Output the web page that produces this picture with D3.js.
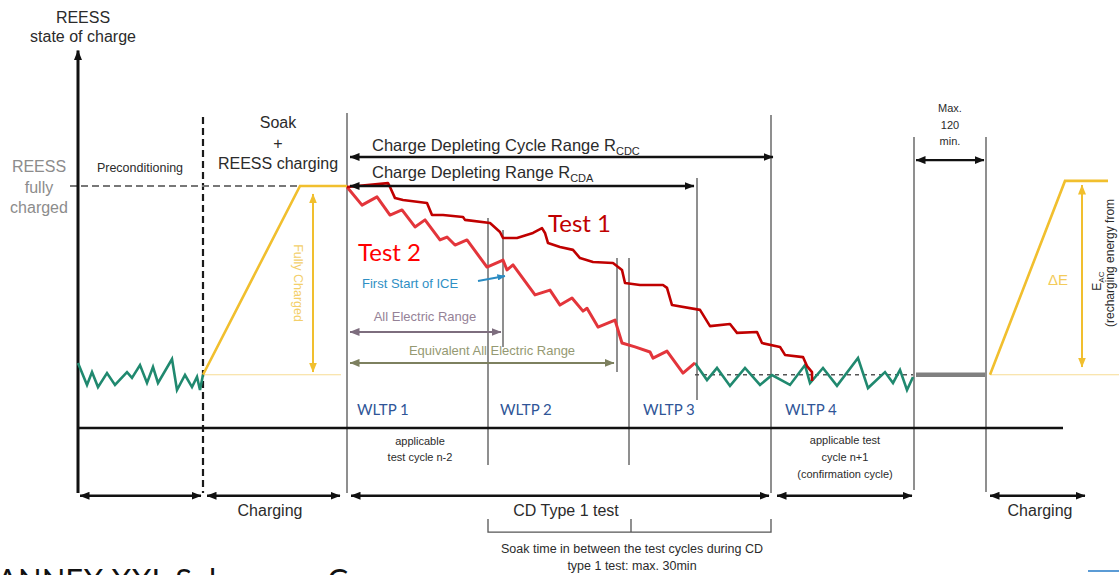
<!DOCTYPE html>
<html>
<head>
<meta charset="utf-8">
<script src="https://cdn.jsdelivr.net/npm/d3@7"></script>
<style>
  html, body { margin: 0; padding: 0; background: #fff; overflow: hidden; }
</style>
</head>
<body>
<script>
// time runs along x in arbitrary units, state of charge along y (100 = fully charged)
const csLevel = 22;

// [t, top, bottom] of the phase boundaries
const phaseBounds = [
  [26.9, 130.2, -26.9],
  [41.0, 86.8, -15.3],
  [42.5, 81.8, 33.5],
  [53.9, 70.2, 23.1],
  [55.1, 70.2, -15.3],
  [61.9, 103.3, 11.6],
  [69.3, 129.3, -26.9],
  [83.6, 120.2, -25.6],
  [90.8, 120.2, -26.4]
];
const soakBound = [12.5, 128.5, -26.9];

const preconditioning = [
  [0, 26.9], [0.9, 17.8], [1.4, 23.1], [2, 16.9], [2.9, 22.7], [3.7, 17.8], [4.9, 23.1],
  [5.4, 20.7], [6.2, 26], [6.9, 18.6], [7.5, 25.2], [8, 18.6], [9.4, 28.5], [9.9, 15.7],
  [10.7, 21.9], [11.4, 16.9], [11.9, 21.1], [12.2, 15.7], [12.5, 22]
];
const chargeSustaining = [
  [61.7, 26.9], [62.9, 19.8], [63.9, 24.8], [65.2, 17.4], [66.7, 24.8], [68.2, 17.8],
  [69.4, 21.9], [71.2, 17.8], [72.7, 26], [73.2, 18.6], [74.5, 24.8], [75.9, 17.4],
  [78, 28.9], [79, 16.5], [80.7, 23.1], [81.5, 18.6], [82.2, 24], [82.9, 15.7], [83.5, 21.1]
];

const test1 = [
  [26.9, 99.6], [31, 101.2], [31.2, 99.6], [31.7, 95], [32.5, 94.2], [34.9, 93], [35.4, 88],
  [36.5, 88], [38.5, 87.2], [38.7, 86], [41.2, 84.7], [42.2, 81], [42.5, 78.5], [43.9, 78.5],
  [45.5, 80.6], [46.4, 82.6], [46.7, 80.6], [47, 76.4], [48.2, 74.8], [49.5, 73.6],
  [50.2, 70.2], [51.5, 68.6], [53.5, 68.2], [54.4, 65.3], [54.7, 59.9], [56.2, 59.1],
  [58.5, 59.1], [58.9, 57.9], [59.4, 50.8], [62.2, 48.8], [63.2, 42.1], [65.2, 43],
  [65.9, 39.3], [67.9, 39.7], [68.4, 35.1], [70.2, 33.5], [70.7, 30.2], [72.5, 29.3],
  [72.9, 25.6], [73.4, 23.1], [73.4, 19.4]
];
const test2 = [
  [26.9, 99.6], [28.4, 92.1], [29.9, 95.5], [31.2, 88], [32.4, 90.1], [33.7, 83.1],
  [34.7, 86], [36.2, 77.7], [36.9, 78.9], [37.7, 75.6], [38.9, 77.7], [40.9, 66.5],
  [42.5, 69.4], [42.9, 65.3], [43.5, 67.4], [45.7, 55], [47.2, 57], [48.2, 50.8],
  [49.4, 53.7], [50.5, 48.3], [50.9, 49.5], [52, 41.7], [53.7, 44.6], [54.4, 35.1],
  [55.7, 33.5], [57.2, 31.4], [57.5, 28.9], [58.9, 31.8], [60.5, 22.7], [61.7, 26.9]
];
const tests = [
  {name: 'Test 1', points: test1, label: [47, 84.3]},
  {name: 'Test 2', points: test2, label: [28, 72.3]}
];

const chargeRamp = [[12.5, csLevel], [22.2, 100], [26.9, 100]];
const rechargeRamp = [[91.2, csLevel], [98.7, 102.1], [103, 102.1]];
const faintLevels = [[12.5, 26.3], [91.2, 104.1]];
const fullyChargedArrow = [23.5, 96.7, 23.1];
const deltaEArrow = [100.4, 100.4, 25.2];

// [t0, t1, v]
const blackSpans = [
  [27.2, 69.5, 112], [27.2, 61.6, 100], [83.8, 90.6, 110.7],
  [0.2, 12.3, -28], [12.9, 26.2, -28], [27.3, 69.1, -28], [69.9, 83.4, -28], [91.2, 100.7, -28]
];
const aerSpan = [27.2, 42.3, 39.7];
const eaerSpan = [27.2, 53.6, 26.9];

const darkLabels = [
  ['REESS', 0.5, 169.8], ['state of charge', 0.5, 162],
  ['Soak', 20, 126.4], ['+', 20, 117.8], ['REESS charging', 20, 109.5],
  ['Charging', 19.2, -33.9], ['CD Type 1 test', 48.8, -33.9], ['Charging', 96.2, -33.9]
];
const grayLabels = [['REESS', -3.9, 107.9], ['fully', -3.9, 99.6], ['charged', -3.9, 91.3]];
const mediumLabels = [
  ['Preconditioning', 6.2, 107.4],
  ['Soak time in between the test cycles during CD', 55.4, -50],
  ['type 1 test: max. 30min', 55.4, -57]
];
const noteLabels = [
  ['applicable', 34.2, -5.4], ['test cycle n-2', 34.2, -12],
  ['applicable test', 76.7, -5], ['cycle n+1', 76.7, -12], ['(confirmation cycle)', 76.7, -19],
  ['Max.', 87.2, 132.2], ['120', 87.2, 125.2], ['min.', 87.2, 118.6]
];
const rangeLabels = [
  ['Charge Depleting Cycle Range R', 'CDC', 29.4, 117],
  ['Charge Depleting Range R', 'CDA', 29.4, 105.8]
];
const cycleLabels = ['WLTP 1', 'WLTP 2', 'WLTP 3', 'WLTP 4'];
const cycleStarts = [27.9, 42.2, 56.5, 70.7];
const soakBracket = [41, 55.3, 69.3];

const x = d3.scaleLinear().domain([0, 100]).range([78, 1078]);
const y = d3.scaleLinear().domain([0, 100]).range([428, 186]);
const line = d3.line().x(d => x(d[0])).y(d => y(d[1]));
const testColor = d3.scaleOrdinal().domain(['Test 1', 'Test 2']).range(['#c00000', '#e3353b']);
const testText = d3.scaleOrdinal().domain(['Test 1', 'Test 2']).range(['#c00000', '#ff0000']);

const svg = d3.select('body').append('svg')
  .attr('width', 1119)
  .attr('height', 575)
  .attr('font-family', '"Liberation Sans", Arial, sans-serif');

const defs = svg.append('defs');
const headColors = {black: '#111', yellow: '#f1bf2e', purple: '#7d6d7e', olive: '#7d805f', blue: '#2a8bc2'};
Object.entries(headColors).forEach(([name, c]) => {
  defs.append('marker')
    .attr('id', 'head-' + name)
    .attr('viewBox', '0 0 10 8')
    .attr('refX', 9.5).attr('refY', 4)
    .attr('markerWidth', name === 'blue' ? 8 : 10)
    .attr('markerHeight', name === 'blue' ? 6.4 : 8)
    .attr('markerUnits', 'userSpaceOnUse')
    .attr('orient', 'auto-start-reverse')
    .append('path').attr('d', 'M0,0L10,4L0,8Z').attr('fill', c);
});

// phase boundaries
svg.append('g').selectAll('line')
  .data(phaseBounds)
  .join('line')
    .attr('x1', d => x(d[0])).attr('x2', d => x(d[0]))
    .attr('y1', d => y(d[1])).attr('y2', d => y(d[2]))
    .attr('stroke', '#737373')
    .attr('stroke-width', 1.6);

svg.append('line')
  .attr('x1', x(soakBound[0])).attr('x2', x(soakBound[0]))
  .attr('y1', y(soakBound[1])).attr('y2', y(soakBound[2]))
  .attr('stroke', '#1a1a1a').attr('stroke-width', 2.2)
  .attr('stroke-dasharray', '7,4');

// fully charged reference
svg.append('line')
  .attr('x1', x(-0.8)).attr('x2', x(chargeRamp[1][0]))
  .attr('y1', y(100)).attr('y2', y(100))
  .attr('stroke', '#777').attr('stroke-width', 2)
  .attr('stroke-dasharray', '7,4');

// axes
svg.append('line')
  .attr('x1', x(0)).attr('x2', x(0))
  .attr('y1', y(-26.9)).attr('y2', y(156))
  .attr('stroke', '#111').attr('stroke-width', 3)
  .attr('marker-end', 'url(#head-black)');
svg.append('line')
  .attr('x1', x(0)).attr('x2', x(98.5))
  .attr('y1', y(0)).attr('y2', y(0))
  .attr('stroke', '#111').attr('stroke-width', 2.5);

// charge sustaining level marks
svg.append('g').selectAll('line')
  .data(faintLevels)
  .join('line')
    .attr('x1', d => x(d[0])).attr('x2', d => x(d[1]))
    .attr('y1', y(csLevel)).attr('y2', y(csLevel))
    .attr('stroke', '#f7dc95').attr('stroke-width', 1.2);
svg.append('line')
  .attr('x1', x(61.7)).attr('x2', x(83.5))
  .attr('y1', y(csLevel)).attr('y2', y(csLevel))
  .attr('stroke', '#555').attr('stroke-width', 1.5)
  .attr('stroke-dasharray', '4,4');
svg.append('line')
  .attr('x1', x(83.8)).attr('x2', x(90.7))
  .attr('y1', y(csLevel)).attr('y2', y(csLevel))
  .attr('stroke', '#808080').attr('stroke-width', 4.5);

// charging ramps
svg.append('g').selectAll('path')
  .data([chargeRamp, rechargeRamp])
  .join('path')
    .attr('d', line)
    .attr('fill', 'none')
    .attr('stroke', '#f1bf2e')
    .attr('stroke-width', 2.6);

svg.append('g').selectAll('line')
  .data([fullyChargedArrow, deltaEArrow])
  .join('line')
    .attr('x1', d => x(d[0])).attr('x2', d => x(d[0]))
    .attr('y1', d => y(d[1])).attr('y2', d => y(d[2]))
    .attr('stroke', '#f1bf2e').attr('stroke-width', 2)
    .attr('marker-start', 'url(#head-yellow)')
    .attr('marker-end', 'url(#head-yellow)');

// SOC traces
svg.append('g').selectAll('path')
  .data([preconditioning, chargeSustaining])
  .join('path')
    .attr('d', line)
    .attr('fill', 'none')
    .attr('stroke', '#20896f')
    .attr('stroke-width', 2.6)
    .attr('stroke-linejoin', 'miter');

svg.append('g').selectAll('path')
  .data(tests.slice().reverse())
  .join('path')
    .attr('d', d => line(d.points))
    .attr('fill', 'none')
    .attr('stroke', d => testColor(d.name))
    .attr('stroke-width', d => d.name === 'Test 1' ? 2.6 : 3)
    .attr('stroke-linejoin', 'round');

// span arrows
svg.append('g').selectAll('line')
  .data(blackSpans)
  .join('line')
    .attr('x1', d => x(d[0])).attr('x2', d => x(d[1]))
    .attr('y1', d => y(d[2])).attr('y2', d => y(d[2]))
    .attr('stroke', '#111').attr('stroke-width', 2.4)
    .attr('marker-start', 'url(#head-black)')
    .attr('marker-end', 'url(#head-black)');

[[aerSpan, 'purple', 'All Electric Range', 34.7, 45.9],
 [eaerSpan, 'olive', 'Equivalent All Electric Range', 41.4, 32.2]].forEach(([s, c, text, t, v]) => {
  svg.append('line')
    .attr('x1', x(s[0])).attr('x2', x(s[1]))
    .attr('y1', y(s[2])).attr('y2', y(s[2]))
    .attr('stroke', headColors[c]).attr('stroke-width', 2)
    .attr('marker-start', `url(#head-${c})`)
    .attr('marker-end', `url(#head-${c})`);
  svg.append('text')
    .attr('x', x(t)).attr('y', y(v)).attr('dy', '0.35em')
    .attr('text-anchor', 'middle')
    .attr('font-size', 13)
    .attr('fill', d3.color(headColors[c]).brighter(0.5))
    .text(text);
});

// soak bracket
svg.append('path')
  .attr('d', `M${x(soakBracket[0])},${y(-37.6)}V${y(-43)}H${x(soakBracket[2])}V${y(-37.6)}M${x(soakBracket[1])},${y(-37.6)}V${y(-43)}`)
  .attr('fill', 'none').attr('stroke', '#555').attr('stroke-width', 1.3);

// first start of ICE
svg.append('line')
  .attr('x1', x(40)).attr('y1', y(60.7))
  .attr('x2', x(42.7)).attr('y2', y(62.8))
  .attr('stroke', headColors.blue).attr('stroke-width', 2)
  .attr('marker-end', 'url(#head-blue)');
svg.append('text')
  .attr('x', x(28.4)).attr('y', y(59.9)).attr('dy', '0.35em')
  .attr('font-size', 13).attr('fill', '#2f8fc4')
  .text('First Start of ICE');

// labels
function addLabels(data, size, color) {
  svg.append('g')
    .attr('font-size', size)
    .attr('fill', color)
    .attr('text-anchor', 'middle')
    .selectAll('text')
    .data(data)
    .join('text')
      .attr('x', d => x(d[1]))
      .attr('y', d => y(d[2]))
      .attr('dy', '0.35em')
      .text(d => d[0]);
}
addLabels(darkLabels, 16, '#2b2b2b');
addLabels(grayLabels, 16, '#8c8c8c');
addLabels(mediumLabels, 12.5, '#2b2b2b');
addLabels(noteLabels, 11, '#2b2b2b');

svg.append('g')
  .attr('font-size', 16.5)
  .attr('fill', '#2b2b2b')
  .selectAll('text')
  .data(rangeLabels)
  .join('text')
    .attr('x', d => x(d[2]))
    .attr('y', d => y(d[3]))
    .attr('dy', '0.35em')
    .call(t => t.append('tspan').text(d => d[0]))
    .call(t => t.append('tspan').attr('font-size', 11).attr('dy', 4).text(d => d[1]));

// rotated yellow labels
svg.append('text')
  .attr('transform', `translate(${x(22)},${y(59.9)}) rotate(90)`)
  .attr('text-anchor', 'middle').attr('dy', '0.35em')
  .attr('font-size', 12.5).attr('fill', '#f3cf6a')
  .text('Fully Charged');
svg.append('text')
  .attr('x', x(98)).attr('y', y(61.2)).attr('dy', '0.35em')
  .attr('text-anchor', 'middle')
  .attr('font-size', 15).attr('fill', '#f3cb5a')
  .text('ΔE');
svg.append('text')
  .attr('transform', `translate(${x(101.9)},${y(60.7)}) rotate(-90)`)
  .attr('text-anchor', 'middle').attr('dy', '0.35em')
  .attr('font-size', 12).attr('fill', '#2b2b2b')
  .call(t => t.append('tspan').text('E'))
  .call(t => t.append('tspan').attr('font-size', 8).attr('dy', 3).text('AC'));
svg.append('text')
  .attr('transform', `translate(${x(103.2)},${y(68.2)}) rotate(-90)`)
  .attr('text-anchor', 'middle').attr('dy', '0.35em')
  .attr('font-size', 12).attr('fill', '#2b2b2b')
  .text('(recharging energy from');

// slide annotations
svg.append('g')
  .attr('font-family', 'Lato, "Open Sans", sans-serif')
  .attr('font-size', 24)
  .selectAll('text')
  .data(tests)
  .join('text')
    .attr('x', d => x(d.label[0]))
    .attr('y', d => y(d.label[1]))
    .attr('dy', '0.35em')
    .attr('fill', d => testText(d.name))
    .text(d => d.name);

svg.append('g')
  .attr('font-family', 'Lato, "Open Sans", sans-serif')
  .attr('font-size', 15)
  .attr('fill', '#2f5597')
  .selectAll('text')
  .data(cycleLabels)
  .join('text')
    .attr('x', (d, i) => x(cycleStarts[i]))
    .attr('y', y(7.4))
    .attr('dy', '0.35em')
    .text(d => d);

svg.append('text')
  .attr('x', x(-8.1)).attr('y', y(-67.4))
  .attr('font-family', 'Lato, "Open Sans", sans-serif')
  .attr('font-size', 31).attr('fill', '#111')
  .text('ANNEX XXI, Sub-annex C');

svg.append('line')
  .attr('x1', x(101)).attr('x2', x(104.1))
  .attr('y1', y(-59.1)).attr('y2', y(-59.1))
  .attr('stroke', '#5b9bd5').attr('stroke-width', 2);
</script>
</body>
</html>
